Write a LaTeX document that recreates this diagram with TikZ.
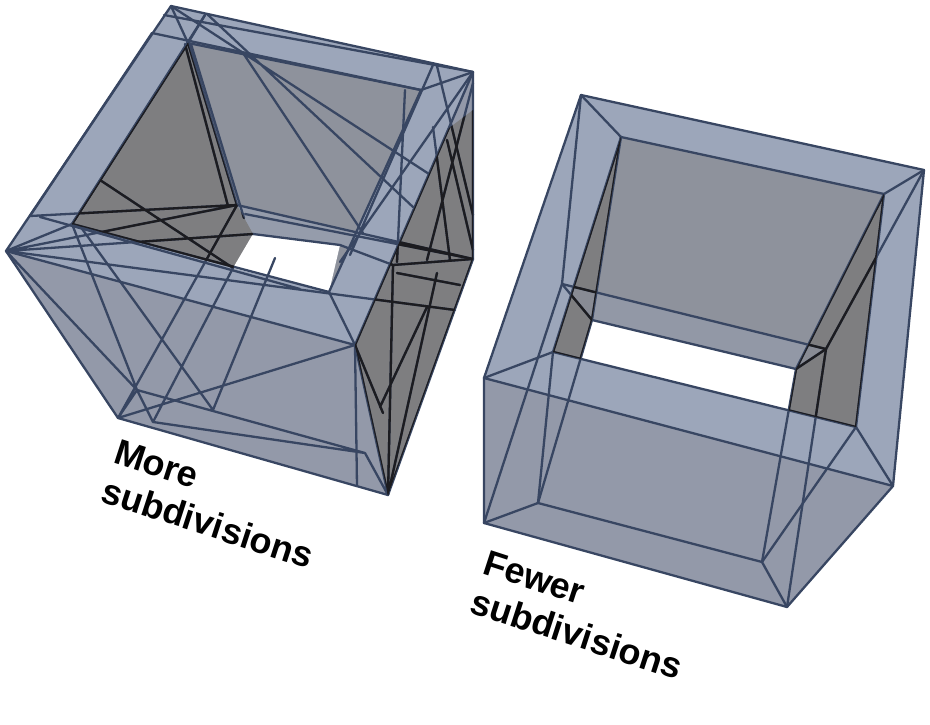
\documentclass[tikz,border=0pt]{standalone}
\usepackage{fontspec}
\setmainfont{Liberation Sans}
\definecolor{bandc}{RGB}{156,166,186}
\definecolor{holec}{RGB}{142,146,156}
\definecolor{frontc}{RGB}{147,153,169}
\definecolor{darkc}{RGB}{126,126,128}
\definecolor{linec}{RGB}{56,70,98}
\definecolor{blackc}{RGB}{28,28,32}
\begin{document}
\begin{tikzpicture}[x=1pt,y=-1pt,
  ln/.style={draw=linec, line width=2.3pt, line join=round, line cap=round},
  lbl/.style={font=\bfseries\fontsize{36}{40}\selectfont, rotate=-18, anchor=base west, inner sep=0pt}]
\useasboundingbox (0,0) rectangle (930,725);
\fill[white] (0,0) rectangle (930,725);
% ---------------- right object ----------------
\coordinate (A) at (581,95);   \coordinate (B) at (924,170);
\coordinate (C) at (893,486);  \coordinate (D) at (484,378);
\coordinate (E) at (484,523);  \coordinate (F) at (787,607);
\coordinate (a) at (621,137);  \coordinate (b) at (884,194);
\coordinate (c) at (856,427);  \coordinate (d) at (553,352);
\coordinate (Ap) at (562,284); \coordinate (Bp) at (826,349);
\coordinate (ap) at (592,320); \coordinate (bp) at (796,369);
\coordinate (e) at (538,503);  \coordinate (f) at (762,562);
\coordinate (w3) at (788.7,410.3); \coordinate (w4) at (580.5,358.8);
\fill[frontc] (A)--(B)--(C)--(F)--(E)--(D)--cycle;
\fill[bandc, even odd rule] (A)--(B)--(C)--(D)--cycle (a)--(b)--(c)--(d)--cycle;
\fill[holec] (a)--(b)--(c)--(d)--cycle;
\fill[darkc] (a)--(ap)--(w4)--(d)--cycle;
\fill[darkc] (b)--(c)--(w3)--(bp)--cycle;
\begin{scope}
  \clip (a)--(b)--(c)--(d)--cycle;
  \fill[bandc, opacity=.35] (Ap)--(Bp)--(bp)--(ap)--cycle;
\end{scope}
\fill[white] (ap)--(bp)--(w3)--(w4)--cycle;
\newcommand\rightlines{%
  \draw[ln] (A)--(B)--(C)--(F)--(E)--(D)--cycle;
  \draw[ln] (D)--(C);
  \draw[ln] (a)--(b)--(c)--(d)--cycle;
  \draw[ln] (A)--(a) (B)--(b) (C)--(c) (D)--(d);
  \draw[ln] (Ap)--(Bp)--(F) (E)--(Ap);
  \draw[ln] (ap)--(bp)--(f)--(e)--cycle;
  \draw[ln] (Ap)--(ap) (Bp)--(bp) (E)--(e) (F)--(f);
  \draw[ln] (A)--(Ap) (B)--(Bp) (a)--(ap) (b)--(bp) (d)--(e) (c)--(f);
}
\rightlines
\begin{scope}
  \clip (a)--(ap)--(w4)--(d)--cycle (b)--(c)--(w3)--(bp)--cycle;
  \tikzset{ln/.style={draw=blackc, line width=2.3pt, line join=round, line cap=round}}
  \rightlines
\end{scope}
% ---------------- left object ----------------
\coordinate (T) at (171,6);    \coordinate (R) at (473,72);
\coordinate (Rb) at (473,259); \coordinate (Bo) at (388,495);
\coordinate (BL) at (118,418); \coordinate (Lf) at (6,251);
\coordinate (Co) at (355,345);
\coordinate (h1) at (188,43);  \coordinate (h2) at (421,90);
\coordinate (h3) at (329,292); \coordinate (h4) at (72,224);
\coordinate (V1) at (137,390); \coordinate (V2) at (153,422);
\coordinate (V3) at (365,453); \coordinate (V4) at (357,486);
\coordinate (wl1) at (237,205); \coordinate (wl2) at (253,234);
\coordinate (wl3) at (233,268); \coordinate (wr) at (340,245);
\coordinate (dk1) at (449,128); \coordinate (dk2) at (473,110);
\coordinate (rf) at (393,265);
\fill[frontc] (T)--(R)--(Rb)--(Bo)--(BL)--(Lf)--cycle;
\fill[bandc, even odd rule] (T)--(R)--(Co)--(Lf)--cycle (h1)--(h2)--(h3)--(h4)--cycle;
\fill[holec] (h1)--(h2)--(h3)--(h4)--cycle;
\begin{scope}
  \clip (h1)--(h2)--(h3)--(h4)--cycle;
  \fill[bandc, opacity=.5] (wl1)--(Rb)--(rf)--(wr)--(wl2)--cycle;
\end{scope}
\fill[darkc] (h1)--(h4)--(wl3)--(wl2)--(wl1)--cycle;
\fill[darkc] (Co)--(dk1)--(dk2)--(Rb)--(Bo)--cycle;
\fill[white] (wl2)--(wr)--(h3)--(wl3)--cycle;
\newcommand\leftlines{%
  \draw[ln] (T)--(R)--(Rb)--(Bo)--(BL)--(Lf)--cycle;
  \draw[ln] (Lf)--(Co)--(R) (Co)--(Bo);
  \draw[ln] (h1)--(h2)--(h3)--(h4)--cycle;
  \draw[ln] (T)--(h1) (R)--(h2) (Co)--(h3) (Lf)--(h4);
  % top and left band
  \draw[ln] (152,33)--(h2) (164,15)--(R) (205,15)--(h1);
  \draw[ln] (152,33)--(30,216) (205,15)--(h4);
  % diagonals over the hole
  \draw[ln] (T)--(429,174) (207,14)--(413,207) (243,53)--(363,233);
  % fan below h1
  \draw[ln] (h1)--(wl1) (191,44)--(244,218) (185,44)--(228,206);
  % far band
  \draw[ln] (wl1)--(Rb) (245,214)--(Rb) (wl2)--(wr)--(rf);
  % lower band
  \draw[ln] (Lf)--(455,310) (40,217)--(300,289) (30,216)--(wl1)
            (Lf)--(wl1) (Lf)--(wl2) (100,180)--(wl3);
  % front face
  \draw[ln] (wl1)--(BL) (wl3)--(V2) (275,258)--(213,410) (h4)--(V1)
            (80,226)--(213,410) (Lf)--(V1) (V1)--(BL) (V1)--(V2)
            (V1)--(V3) (V2)--(V3) (V3)--(Bo) (Co)--(V4) (Co)--(BL);
  % right band
  \draw[ln] (433,65)--(350,255) (R)--(340,262) (405,90)--(397,262) (437,66)--(473,215);
  % right face
  \draw[ln] (rf)--(Bo) (437,273)--(Bo) (rf)--(Rb) (397,273)--(460,285)
            (427,307)--(380,407) (433,127)--(450,260) (447,140)--(473,250)
            (473,83)--(427,260) (Co)--(383,413);
}
\leftlines
\begin{scope}
  \clip (h1)--(h4)--(wl3)--(wl2)--(wl1)--cycle (Co)--(dk1)--(dk2)--(Rb)--(Bo)--cycle;
  \tikzset{ln/.style={draw=blackc, line width=2.3pt, line join=round, line cap=round}}
  \leftlines
\end{scope}
% ---------------- labels ----------------
\node[lbl] (more) at (112,462) {More};
\node[lbl] (moresub) at (99,501) {subdivisions};
\node[lbl] (fewer) at (481,573) {Fewer};
\node[lbl] (fewersub) at (468,612) {subdivisions};
\end{tikzpicture}
\end{document}
